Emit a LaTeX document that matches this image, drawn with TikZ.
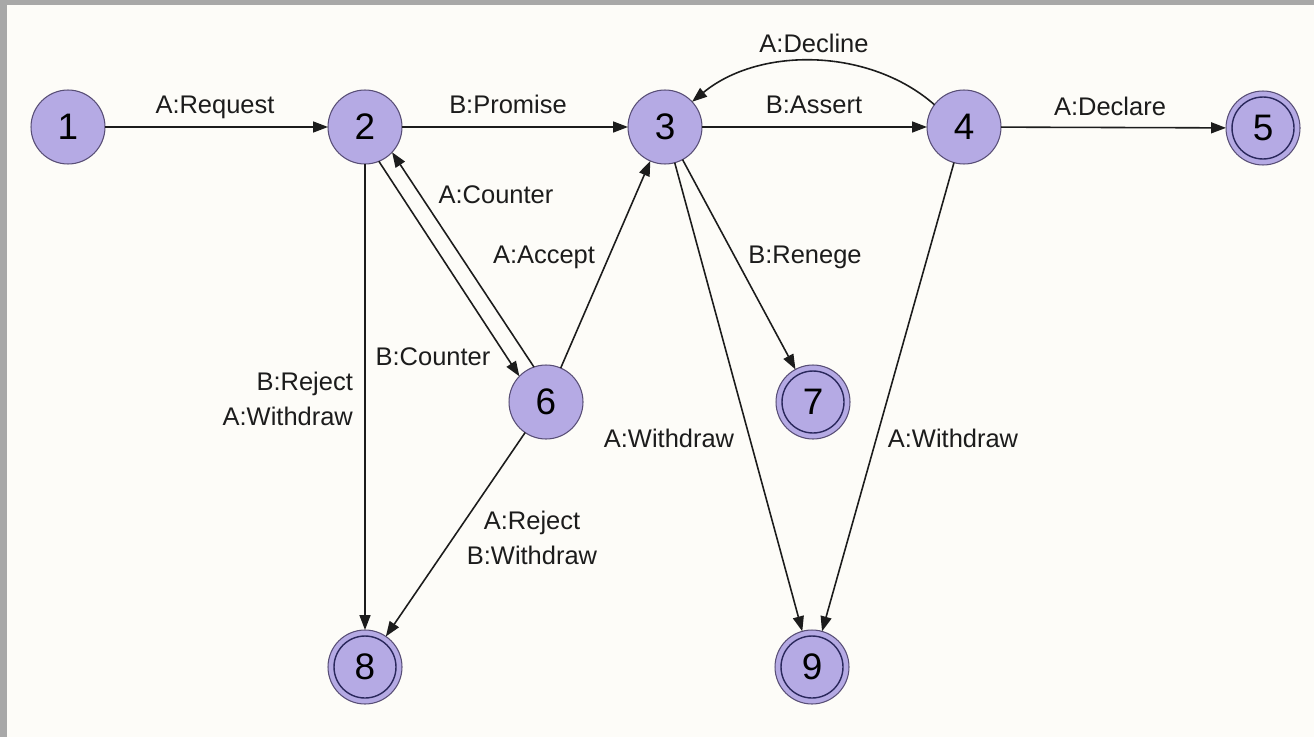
\documentclass[tikz,border=0pt]{standalone}
\usepackage{fontspec}
\setmainfont{Liberation Sans}
\usetikzlibrary{arrows.meta}
\definecolor{statefill}{RGB}{181,170,228}
\definecolor{stateline}{RGB}{88,78,118}
\definecolor{finalline}{RGB}{42,40,92}
\definecolor{paper}{RGB}{253,252,248}
\definecolor{framegray}{RGB}{168,168,168}
\definecolor{ink}{RGB}{28,28,28}

\begin{document}
\begin{tikzpicture}[x=0.02cm, y=-0.02cm,
state/.style = {circle, fill=statefill, draw=stateline, line width=0.6pt,
            minimum size=#1, inner sep=0pt, outer sep=0pt,
            font=\fontsize{21}{21}\selectfont},
state/.default = 1.48cm,  % diameter of a state
final/.style = {state, path picture={\draw[finalline, line width=0.8pt]
            (path picture bounding box.center) circle (0.62cm);}},
edge/.style = {draw=ink, line width=0.9pt,
            -{Triangle[length=0.3cm, width=0.22cm]}},
lbl/.style = {inner sep=1pt, text=ink, font=\fontsize{14.5}{19.9}\selectfont}
                ]
    % scanned page
    \useasboundingbox (0,0) rectangle (1314,737);
    \fill[framegray] (0,0) rectangle (1314,737);
    \fill[paper] (7,5) rectangle (1314,737);

    % states
    \foreach \x/\y/\v in {68/127/1, 365/127/2, 665/127/3, 964/127/4, 546/402/6}
        \node[state] at (\x,\y) (n\v) {\v};
    \foreach \x/\y/\v in {1263/128/5, 813/402/7, 365/667/8, 812/667/9}
        \node[final] at (\x,\y) (n\v) {\v};

    % transitions
    \draw [edge] (n1) -- (n2);
    \draw [edge] (n2) -- (n3);
    \draw [edge] (n3) -- (n4);
    \draw [edge] (n4) -- (n5);
    \draw [edge] (n4.143) .. controls (870,48) and (760,46) .. (n3.43);
    \draw [edge] (n2.-68) -- (n6.136);
    \draw [edge] (n6.109) -- (n2.-43);
    \draw [edge] (n6) -- (n3);
    \draw [edge] (n3) -- (n7);
    \draw [edge] (n3) -- (n9);
    \draw [edge] (n4) -- (n9);
    \draw [edge] (n2) -- (n8);
    \draw [edge] (n6) -- (n8);

    % labels
    \foreach \x/\y/\t/\n in {215/113/A:Request/request, 508/113/B:Promise/promise,
            814/113/B:Assert/assert, 814/52/A:Decline/decline,
            1110/115/A:Declare/declare, 496/203/A:Counter/acounter,
            544/263/A:Accept/accept, 433/365/B:Counter/bcounter,
            805/263/B:Renege/renege, 669/447/A:Withdraw/withdrawl,
            953/447/A:Withdraw/withdrawr}
        \node[lbl, anchor=base] at (\x,\y) (\n) {\t};
    \node[lbl, anchor=east, align=right] at (355,399) (rejectb)
        {B:Reject\\A:Withdraw};
    \node[lbl, align=center] at (532,538) (rejecta)
        {A:Reject\\B:Withdraw};
\end{tikzpicture}
\end{document}
